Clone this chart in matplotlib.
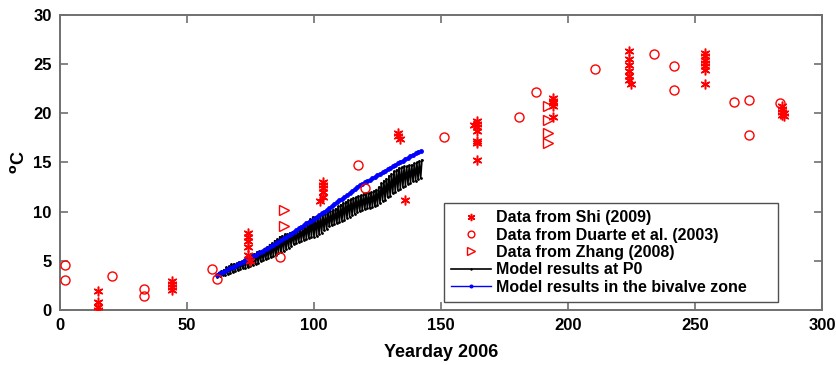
import numpy as np
import matplotlib.pyplot as plt

plt.rcParams['font.family'] = ['Liberation Sans', 'DejaVu Sans']
plt.rcParams['font.weight'] = 'bold'

# Shi (2009) observations
shi_day = [15, 15, 15, 15,
           44, 44, 44, 44,
           74, 74, 74, 74, 74, 75,
           103.7, 103.7, 103.7, 103.7, 103.7, 102.5,
           133, 133, 134, 136,
           164, 164, 164, 164, 164, 164, 164, 163,
           194, 194, 194, 194, 194,
           224, 224, 224, 224, 224, 224, 224.7,
           254, 254, 254, 254, 254, 254, 254,
           284.4, 284.4, 284.4, 284.4, 285, 285]
shi_temp = [1.9, 0.8, 0.35, 0.0,
            2.9, 2.65, 2.3, 2.0,
            7.8, 7.4, 7.0, 6.4, 5.6, 5.0,
            13.0, 12.7, 12.4, 12.0, 11.5, 11.1,
            18.0, 17.7, 17.4, 11.2,
            19.2, 18.9, 18.6, 18.2, 17.2, 17.0, 15.3, 18.8,
            21.6, 21.3, 21.0, 20.7, 19.6,
            26.3, 25.5, 24.9, 24.3, 23.8, 23.4, 23.0,
            26.1, 25.8, 25.4, 25.1, 24.8, 24.4, 23.0,
            20.7, 20.4, 20.1, 19.8, 20.0, 19.7]

# Duarte et al. (2003) observations
duarte_day = [2, 2, 20.5, 33, 33, 60, 61.7, 86.7, 117.5, 120.2, 151.2, 180.7,
              187.4, 210.8, 233.9, 241.7, 241.7, 265.4, 271.3, 271.3, 283.6]
duarte_temp = [4.6, 3.05, 3.5, 2.1, 1.45, 4.2, 3.2, 5.4, 14.75, 12.4, 17.6, 19.6,
               22.2, 24.5, 26.0, 24.85, 22.35, 21.2, 21.4, 17.8, 21.0]

# Zhang (2008) observations
zhang_day = [88, 88, 192, 192, 192, 192]
zhang_temp = [10.2, 8.5, 20.7, 19.3, 18.0, 17.0]

# model output, days 62-142
model_day = np.arange(62, 143)

# daily low / high at P0
p0_low = [3.40, 3.45, 3.55, 3.60, 3.65, 3.75, 3.85, 3.95, 4.05, 4.15,
          4.25, 4.30, 4.35, 4.45, 4.55, 4.65, 4.80, 4.95, 5.05, 5.15,
          5.25, 5.35, 5.45, 5.55, 5.75, 5.90, 6.00, 6.20, 6.35, 6.55,
          6.70, 6.80, 6.95, 7.05, 7.15, 7.20, 7.35, 7.40, 7.45, 7.55,
          7.75, 7.85, 8.10, 8.25, 8.50, 8.60, 8.75, 8.85, 8.90, 9.10,
          9.20, 9.40, 9.50, 9.70, 9.80, 10.00, 10.05, 10.20, 10.25, 10.40,
          10.40, 10.50, 10.55, 10.70, 10.90, 11.10, 11.20, 11.45, 11.60, 11.85,
          12.00, 12.25, 12.35, 12.55, 12.65, 12.85, 12.95, 13.10, 13.15, 13.30,
          13.40]
p0_high = [3.80, 3.95, 4.10, 4.35, 4.45, 4.65, 4.70, 4.75, 4.90, 4.95,
           5.05, 5.30, 5.45, 5.65, 5.70, 5.90, 5.95, 6.05, 6.25, 6.40,
           6.65, 6.80, 7.05, 7.20, 7.45, 7.55, 7.70, 7.70, 7.85, 7.90,
           8.05, 8.10, 8.30, 8.45, 8.75, 8.95, 9.25, 9.45, 9.45, 9.55,
           9.65, 9.75, 9.80, 9.95, 10.05, 10.20, 10.30, 10.55, 10.70, 10.90,
           11.00, 11.20, 11.25, 11.40, 11.45, 11.60, 11.65, 11.80, 11.85, 11.90,
           11.95, 12.10, 12.25, 12.50, 12.90, 13.15, 13.35, 13.65, 13.85, 14.10,
           14.25, 14.45, 14.50, 14.60, 14.60, 14.70, 14.75, 14.90, 15.00, 15.15,
           15.25]

# bivalve zone, daily mean
bivalve = [3.6, 3.75, 3.9, 4.0, 4.15, 4.3, 4.4, 4.5, 4.65, 4.8,
           4.9, 5.05, 5.2, 5.3, 5.45, 5.6, 5.75, 5.9, 6.05, 6.2,
           6.35, 6.5, 6.65, 6.8, 6.95, 7.1, 7.3, 7.45, 7.6, 7.75,
           7.95, 8.1, 8.3, 8.45, 8.6, 8.8, 8.95, 9.1, 9.3, 9.5,
           9.65, 9.85, 10.0, 10.2, 10.4, 10.55, 10.75, 10.95, 11.15, 11.3,
           11.5, 11.7, 11.9, 12.1, 12.3, 12.5, 12.75, 12.85, 13.0, 13.1,
           13.25, 13.4, 13.55, 13.7, 13.85, 14.0, 14.15, 14.3, 14.45, 14.6,
           14.75, 14.9, 15.05, 15.2, 15.35, 15.5, 15.65, 15.8, 15.95, 16.05,
           16.2]

# twice-daily samples: low then high
p0_t = np.column_stack([model_day, model_day + 0.5]).ravel()
p0_v = np.column_stack([p0_low, p0_high]).ravel()

asterisk = (6, 2, 0)

fig = plt.figure(figsize=(8.37, 3.65), dpi=100)
ax = fig.add_axes([0.0717, 0.1507, 0.9103, 0.8082])

h_p0, = ax.plot(p0_t, p0_v, '-', color='black', lw=1.2, marker='.', ms=2, zorder=2)
h_biv, = ax.plot(model_day, bivalve, '-', color='blue', lw=1.0, marker='.', ms=5, zorder=3)
h_shi, = ax.plot(shi_day, shi_temp, linestyle='none', marker=asterisk, color='red',
                 ms=7, mew=1.1, zorder=4)
h_dua, = ax.plot(duarte_day, duarte_temp, linestyle='none', marker='o', mfc='none',
                 mec='red', ms=6.5, mew=1, zorder=4)
h_zha, = ax.plot(zhang_day, zhang_temp, linestyle='none', marker='>', mfc='none',
                 mec='red', ms=7, mew=1, zorder=4)

ax.set_xlim(0, 300)
ax.set_ylim(0, 30)
ax.set_xticks(np.arange(0, 301, 50))
ax.set_yticks(np.arange(0, 31, 5))
ax.tick_params(direction='in', length=6, width=1.2, color='#707070', labelsize=12,
               top=True, right=True, pad=6)
for s in ax.spines.values():
    s.set_color('#707070')
    s.set_linewidth(1.4)
for lab in ax.get_xticklabels() + ax.get_yticklabels():
    lab.set_fontweight('bold')

ax.set_xlabel('Yearday 2006', fontsize=13, fontweight='bold', labelpad=8)
ax.set_ylabel('$\\mathbf{^o}$C', fontsize=13, fontweight='bold', labelpad=4)

# legend box stretched over a fixed region, entries left-aligned
leg = ax.legend([h_shi, h_dua, h_zha, h_p0, h_biv],
                ['Data from Shi (2009)', 'Data from Duarte et al. (2003)',
                 'Data from Zhang (2008)', 'Model results at P0',
                 'Model results in the bivalve zone'],
                loc='lower left', bbox_to_anchor=(0.504, 0.027, 0.438, 0.336),
                mode='expand',
                prop={'weight': 'bold', 'size': 11.5}, markerscale=0.75,
                handlelength=2.5, handletextpad=0.3, labelspacing=0.15,
                borderpad=0.45, borderaxespad=0, fancybox=False, framealpha=1,
                edgecolor='#505050')
leg.get_frame().set_linewidth(1.0)

fig.savefig('out.png', dpi=100)
